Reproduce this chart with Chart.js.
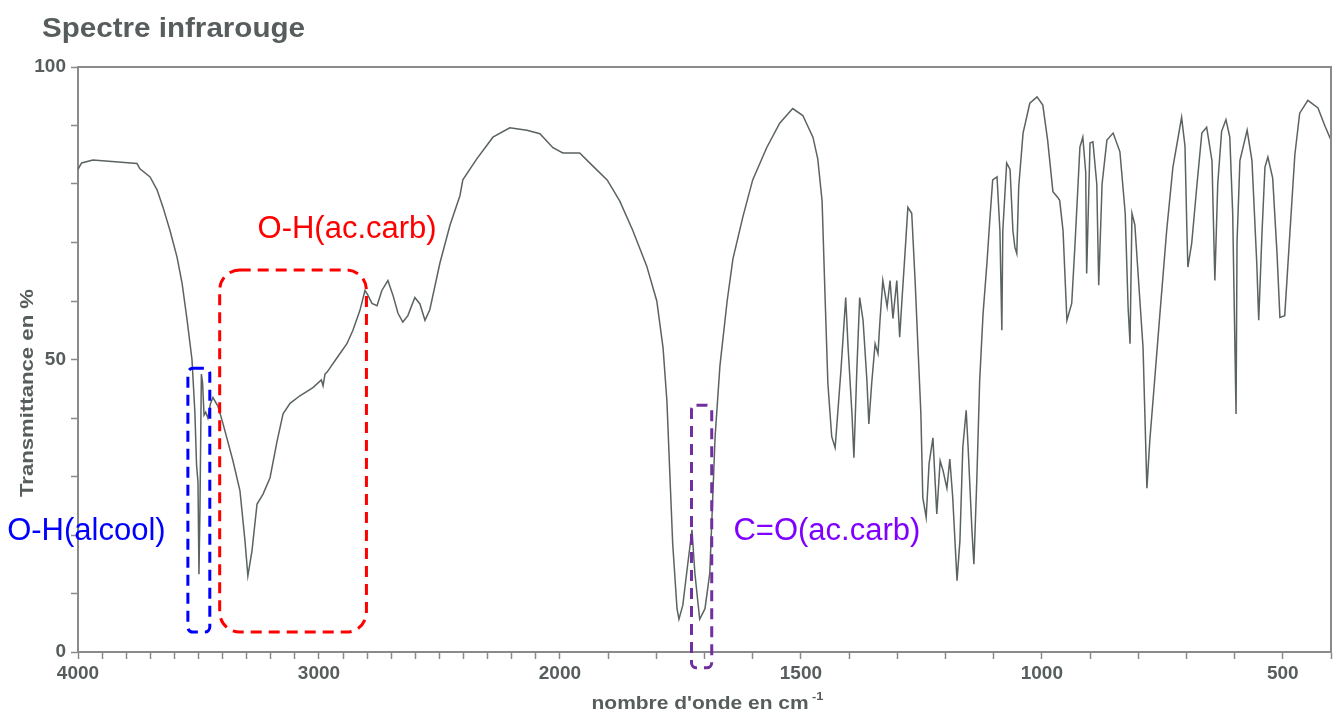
<!DOCTYPE html>
<html>
<head>
<meta charset="utf-8">
<script src="https://cdn.jsdelivr.net/npm/chart.js@4.4.1/dist/chart.umd.min.js"></script>
<style>
html,body{margin:0;padding:0;background:#ffffff;}
#wrap{position:relative;width:1335px;height:713px;}
</style>
</head>
<body>
<div id="wrap"><canvas id="c" width="1335" height="713"></canvas></div>
<script>
// ---- data (wavenumber in cm-1, transmittance in %) ----
const wavenumbers = [4000,3985,3938,3846,3755,3743,3701,3672,3647,3618,3589,3568,3548,3527,3515,3508,3502,3498,3494,3488,3483,3477,3470,3461,3450,3440,3419,3398,3357,3328,3307,3295,3278,3257,3232,3203,3174,3149,3120,3079,3025,2990,2983,2975,2967,2925,2884,2859,2830,2809,2797,2780,2759,2739,2714,2693,2672,2652,2631,2602,2581,2560,2540,2498,2456,2415,2403,2345,2278,2208,2137,2083,2029,1994,1959,1932,1902,1876,1849,1820,1799,1786,1778,1772,1766,1757,1753,1745,1737,1726,1720,1710,1699,1689,1678,1668,1653,1641,1620,1600,1571,1544,1517,1496,1475,1465,1456,1450,1444,1436,1429,1427,1417,1407,1402,1394,1390,1384,1378,1371,1363,1359,1353,1346,1340,1336,1330,1321,1315,1309,1301,1295,1290,1284,1278,1270,1263,1257,1251,1247,1240,1234,1226,1218,1211,1205,1197,1191,1185,1176,1170,1164,1157,1153,1145,1141,1135,1129,1122,1114,1108,1102,1093,1087,1083,1081,1073,1066,1060,1056,1052,1048,1039,1025,1010,998,988,977,967,963,956,948,938,931,921,915,909,907,900,894,886,882,875,865,852,838,827,821,817,813,807,797,790,782,776,766,755,741,728,710,703,699,697,689,678,668,658,647,641,635,627,618,610,604,597,595,589,574,564,554,550,543,537,531,521,512,506,496,485,475,465,448,427,413,400];
const transmittance = [82.5,83.6,84.1,83.8,83.5,82.6,81.2,79,76,72,67.5,63,57,50,41,32,29,13.3,24,47.5,46,40.5,41,40,42.5,43.5,42,39,32.7,27.6,19,13,17.3,25.3,27,29.8,36,40.7,42.5,43.8,45.2,46.5,45.5,47.5,47.8,50.3,52.7,55,58.4,61.8,61,59.6,59.2,61.8,63.5,61,57.9,56.4,57.5,60.6,59.5,56.7,58.5,66.5,73,78,80.7,84.3,88,89.6,89.2,88.6,86.2,85.3,85.3,83.1,80.7,77.1,72.1,66,60,52,42.9,30.6,18.5,7.4,5.6,8,13.5,20.9,13.5,5.6,7.4,13.5,36.8,48.9,60,67.2,74.5,80.7,86.2,90.4,92.9,91.7,88,84.3,77.1,61.2,45.9,36.8,34.9,37,48,60.6,52,40.7,33.2,48,60.6,56.7,46.4,39,46,52.7,51,56.5,63.5,59,63.5,57,63.5,53.8,60.5,68.1,76,75,63.5,52,40.7,26.4,23,32.2,36.6,23.6,32.7,31,28,33,26.5,12.2,19,35,41.3,35,20.7,15,29.3,46.4,57.8,66.4,73.8,80.7,81.2,72,55,72,83.6,82.5,72,69.2,68.1,79.5,88.7,93.8,94.9,93.5,87.5,78.7,77.7,77.2,72,56.7,59.6,70,86.3,88,82,64.7,87,87.2,80,62.7,80,87.5,88.7,85.5,75,58.9,52.7,75,73,60.6,52,28,36.1,46.4,57.8,72,82.9,91.4,86.5,72,65.8,69.9,80,88.7,89.7,84,63.5,80,89,91,88,75,40.7,70,84,89.2,84,66.4,56.7,72,82.9,84.6,81,68.1,57.2,57.5,72,85,92.1,94.3,93,90,87.5];

const xTickLabels = [4000, 3000, 2000, 1500, 1000, 500];
const yTickLabels = [0, 50, 100];
const xMinorTicks = [];
for (let w = 4000; w >= 400; w -= 100) xMinorTicks.push(w);
const xRange = [4000, 400];

// Annotation boxes and labels, in data units (cm-1, %)
const boxes = [
  {label: 'O-H(alcool)',  color: '#0000ff', wnFrom: 3544, wnTo: 3453, tTop: 48.5, tBottom: 3.4,  radius: 5},
  {label: 'O-H(ac.carb)', color: '#ff0000', wnFrom: 3412, wnTo: 2803, tTop: 65.3, tBottom: 3.4,  radius: 20},
  {label: 'C=O(ac.carb)', color: '#7030a0', wnFrom: 1727, wnTo: 1685, tTop: 42.2, tBottom: -2.7, radius: 5}
];
const labels = [
  {text: 'O-H(alcool)',  color: '#0000ff', wn: 4294, t: 19.1},
  {text: 'O-H(ac.carb)', color: '#ff0000', wn: 3255, t: 70.7},
  {text: 'C=O(ac.carb)', color: '#8000ff', wn: 1640, t: 19.1}
];

// The spectrometer chart doubles its scale below 2000 cm-1
function wnToU(w) { return w >= 2000 ? 4000 - w : 2000 + 2 * (2000 - w); }
function uToWn(u) { return u <= 2000 ? 4000 - u : 2000 - (u - 2000) / 2; }

const points = wavenumbers.map((w, i) => ({x: wnToU(w), y: transmittance[i]}));

const GREY = '#8a8a8a';
const TEXT = '#575d5d';
const FONT = '"Liberation Sans", Arial, Helvetica, sans-serif';

const decor = {
  id: 'decor',
  afterDraw(chart) {
    const {ctx, chartArea: a, scales} = chart;
    const xs = scales.x, ys = scales.y;
    ctx.save();
    // frame top and right
    ctx.strokeStyle = GREY; ctx.lineWidth = 2;
    ctx.beginPath();
    ctx.moveTo(a.left, a.top); ctx.lineTo(a.right, a.top); ctx.lineTo(a.right, a.bottom);
    ctx.stroke();

    // annotation boxes
    ctx.lineWidth = 3;
    ctx.setLineDash([11, 7]);
    boxes.forEach(b => {
      const x1 = xs.getPixelForValue(wnToU(b.wnFrom));
      const x2 = xs.getPixelForValue(wnToU(b.wnTo));
      const y1 = ys.getPixelForValue(b.tTop);
      const y2 = ys.getPixelForValue(b.tBottom);
      ctx.strokeStyle = b.color;
      ctx.beginPath();
      ctx.roundRect(x1, y1, x2 - x1, y2 - y1, b.radius);
      ctx.stroke();
    });
    ctx.setLineDash([]);

    // annotation texts
    ctx.font = '31px ' + FONT;
    ctx.textAlign = 'left'; ctx.textBaseline = 'alphabetic';
    labels.forEach(l => {
      ctx.fillStyle = l.color;
      ctx.fillText(l.text, xs.getPixelForValue(wnToU(l.wn)), ys.getPixelForValue(l.t));
    });

    // main title
    ctx.fillStyle = TEXT;
    ctx.font = 'bold 27px ' + FONT;
    const title = 'Spectre infrarouge';
    const tw = ctx.measureText(title).width;
    ctx.save();
    ctx.translate(42, 37);
    ctx.scale(263 / tw, 1);
    ctx.fillText(title, 0, 0);
    ctx.restore();

    // y title
    ctx.save();
    ctx.font = 'bold 18px ' + FONT;
    const yt = 'Transmittance en %';
    const yw = ctx.measureText(yt).width;
    ctx.translate(28, 393);
    ctx.rotate(-Math.PI / 2);
    ctx.scale(208 / yw, 1);
    ctx.textAlign = 'center'; ctx.textBaseline = 'middle';
    ctx.fillText(yt, 0, 0);
    ctx.restore();

    // x title with superscript
    ctx.save();
    ctx.font = 'bold 18px ' + FONT;
    const xt = "nombre d'onde en cm";
    const w1 = ctx.measureText(xt).width;
    ctx.font = 'bold 11px ' + FONT;
    const w2 = ctx.measureText('-1').width;
    const total = w1 + 3 + w2;
    const sx = 232 / total;
    const cx = (a.left + a.right) / 2 + 3;
    ctx.translate(cx - total * sx / 2, 709);
    ctx.scale(sx, 1);
    ctx.font = 'bold 18px ' + FONT;
    ctx.textAlign = 'left'; ctx.textBaseline = 'alphabetic';
    ctx.fillText(xt, 0, 0);
    ctx.font = 'bold 11px ' + FONT;
    ctx.fillText('-1', w1 + 3, -9);
    ctx.restore();

    ctx.restore();
  }
};

new Chart(document.getElementById('c'), {
  type: 'line',
  data: {
    datasets: [{
      data: points,
      borderColor: '#5b6262',
      borderWidth: 1.5,
      pointRadius: 0,
      tension: 0,
      fill: false
    }]
  },
  options: {
    responsive: false,
    animation: false,
    devicePixelRatio: 1,
    parsing: false,
    layout: {padding: {left: 0, top: 67, right: 4, bottom: 0}},
    plugins: {legend: {display: false}, title: {display: false}, tooltip: {enabled: false}},
    scales: {
      x: {
        type: 'linear',
        min: wnToU(xRange[0]),
        max: wnToU(xRange[1]),
        afterBuildTicks: s => { s.ticks = xMinorTicks.map(w => ({value: wnToU(w)})); },
        afterFit: s => { s.height = 61; },
        ticks: {
          autoSkip: false, maxRotation: 0, minRotation: 0, padding: 3,
          color: TEXT,
          font: {family: FONT, size: 19, weight: 'bold'},
          callback: v => { const w = Math.round(uToWn(v)); return xTickLabels.includes(w) ? String(w) : ''; }
        },
        grid: {drawOnChartArea: false, drawTicks: true, tickLength: 7, color: GREY, tickWidth: 1.5},
        border: {display: true, color: GREY, width: 2}
      },
      y: {
        min: 0, max: 100,
        afterFit: s => { s.width = 78; },
        ticks: {
          stepSize: 10, padding: 5,
          color: TEXT,
          font: {family: FONT, size: 19, weight: 'bold'},
          callback: v => yTickLabels.includes(v) ? String(v) : ''
        },
        grid: {drawOnChartArea: false, drawTicks: true, tickLength: 7, color: GREY, tickWidth: 1.5},
        border: {display: true, color: GREY, width: 2}
      }
    }
  },
  plugins: [decor]
});
</script>
</body>
</html>
